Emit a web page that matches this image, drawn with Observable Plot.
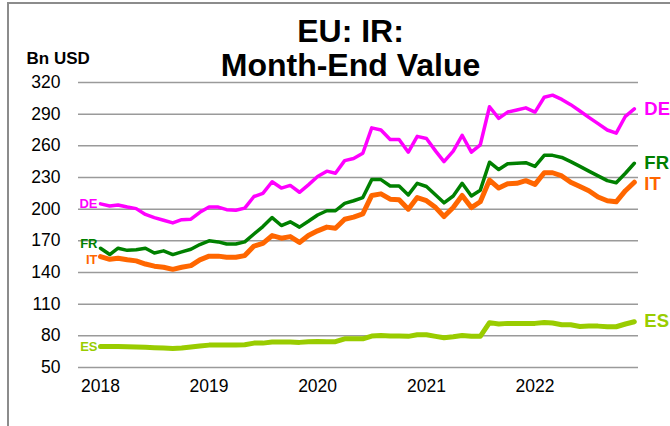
<!DOCTYPE html>
<html>
<head>
<meta charset="utf-8">
<script src="https://cdn.jsdelivr.net/npm/d3@7"></script>
<script src="https://cdn.jsdelivr.net/npm/@observablehq/plot@0.6"></script>
<style>
  html, body { margin: 0; padding: 0; background: #fff; overflow: hidden; }
  #wrap { position: relative; width: 670px; height: 426px; overflow: hidden; }
  #border { position: absolute; left: 7px; top: 2px; width: 720px; height: 520px;
            border: 2px solid #8c8c8c; box-sizing: border-box; pointer-events: none; }
</style>
</head>
<body>
<div id="wrap"><div id="border"></div></div>
<script>
// ---- data (Bn USD, month-end, Jan 2018 .. Dec 2022) ----
const startYear = 2018;
const nMonths = 60;
const DE = [205,203,204,202,200.5,195,192,189.5,187,190,190.5,197,
            202,202,199.5,199,201,212,215,226,220,222.5,216,223,
            231,236,234,246,248,253,277,275,266,266,254,269,
            267,255,245,255,270,254,261,297,286,292,294,296,
            292,306,308,304,299,293,287,281,275,272,288,295];
const FR = [163,157,163,161,161.5,163,158.5,160.5,157,159.5,162,166.5,
            170,169,167,167,169,176.5,183.5,192,184.5,188,183,188.5,
            194.5,198.5,198.5,205.5,208,211,228,228,222,222,213.5,224.5,
            221.5,213.5,206,212.5,224.5,212.5,218,244.5,237.5,243,243.5,244,
            240.5,251,251,249,245,240.5,236,231.5,227,225,234,243.5];
const IT = [155,152.5,153.5,152,151,148,146,145,143,145,146.5,152,
            155.5,155.5,154.5,154.5,156,165,167.5,175,172.5,174,168.5,175,
            179.5,183,182,190.5,192.5,195.5,213,214.5,209.5,209,200,211,
            208,201.5,193,201.5,213,201.5,207,227.5,220,224,224.5,227,
            223.5,234.5,234.5,231.5,225.5,221.5,217.5,211.5,208,207,217.5,225.5];
const ES = [70,70,70,69.7,69.4,69.1,68.8,68.4,68.1,68.4,69.4,70.3,
            71.2,71.2,71.2,71.2,71.6,73.1,73.1,74.1,74.1,74.1,73.8,74.4,
            74.7,74.4,74.4,77.2,77.2,77.2,79.8,80.4,79.8,79.8,79.5,81,
            81,79.5,78.2,79.2,80.4,79.5,79.5,92.5,91.2,91.8,91.8,91.8,
            91.8,92.7,92.1,90.5,90.5,88.9,89.2,89.2,88.6,88.6,91.2,93.3];
const yTicks = [50,80,110,140,170,200,230,260,290,320];
const xTickYears = [2018,2019,2020,2021,2022];
const seriesNames = ["ES","IT","FR","DE"];
const seriesColors = {DE:"#ff00ff", FR:"#008000", IT:"#ff6600", ES:"#99cc00"};
const seriesWidths = {DE:3.5, FR:3.5, IT:5, ES:5};
const seriesValues = {DE, FR, IT, ES};
const titleLines = ["EU: IR:", "Month-End Value"];
const unitLabel = "Bn USD";

// ---- build table ----
const months = d3.range(nMonths).map(i => new Date(Date.UTC(startYear, i, 1)));
const rows = [];
for (const s of seriesNames) {
  seriesValues[s].forEach((v, i) => rows.push({series: s, date: months[i], value: v}));
}
const firstRows = seriesNames.map(s => ({series: s, date: months[0], value: seriesValues[s][0]}));
const lastRows = seriesNames.map(s => ({series: s, date: months[nMonths-1], value: seriesValues[s][nMonths-1]}));
const leftDy = {DE:0, FR:-4, IT:3, ES:0};
const rightDy = {DE:0, FR:0, IT:2, ES:-1};

const font = "'Liberation Sans', Arial, sans-serif";

const marks = [
  Plot.gridY(yTicks, {stroke: "#9a9a9a", strokeOpacity: 1, strokeWidth: 1.5}),
  Plot.axisY(yTicks, {tickSize: 0, tickPadding: 18, fontSize: 17.5, label: null, fill: "#000"}),
  Plot.axisX(xTickYears.map(y => new Date(Date.UTC(y, 0, 1))),
             {tickSize: 0, tickPadding: 12, fontSize: 17.5, label: null, tickFormat: d3.utcFormat("%Y"), fill: "#000"}),
];
for (const s of seriesNames) {
  marks.push(Plot.line(rows.filter(r => r.series === s), {
    x: "date", y: "value", stroke: seriesColors[s], strokeWidth: seriesWidths[s],
    strokeLinejoin: "round", strokeLinecap: "round"
  }));
}
for (const s of seriesNames) {
  marks.push(Plot.text(firstRows.filter(r => r.series === s), {
    x: "date", y: "value", text: "series", textAnchor: "end", dx: -3, dy: leftDy[s],
    fill: seriesColors[s], fontSize: 13, fontWeight: "bold"
  }));
  marks.push(Plot.text(lastRows.filter(r => r.series === s), {
    x: "date", y: "value", text: "series", textAnchor: "start", dx: 10, dy: rightDy[s],
    fill: seriesColors[s], fontSize: 18.5, fontWeight: "bold"
  }));
}
marks.push(Plot.text([titleLines[0]], {frameAnchor: "top", text: d => d, dx: -8, dy: -41, lineAnchor: "bottom",
  fontSize: 32, fontWeight: "bold", fill: "#000"}));
marks.push(Plot.text([titleLines[1]], {frameAnchor: "top", text: d => d, dx: -8, dy: -7, lineAnchor: "bottom",
  fontSize: 32, fontWeight: "bold", fill: "#000"}));
marks.push(Plot.text([unitLabel], {frameAnchor: "top-left", text: d => d, dx: -52, dy: -19, lineAnchor: "bottom",
  textAnchor: "start", fontSize: 17, fontWeight: "bold", fill: "#000"}));

const chart = Plot.plot({
  width: 670,
  height: 426,
  marginLeft: 78,
  marginRight: 32,
  marginTop: 82,
  marginBottom: 59,
  style: {fontFamily: font, background: "transparent", color: "#000", overflow: "visible"},
  x: {type: "utc", domain: [new Date(Date.UTC(2017, 9, 19)), new Date(Date.UTC(2022, 11, 15))]},
  y: {domain: [50, 320]},
  marks
});
document.getElementById("wrap").prepend(chart);
</script>
</body>
</html>
